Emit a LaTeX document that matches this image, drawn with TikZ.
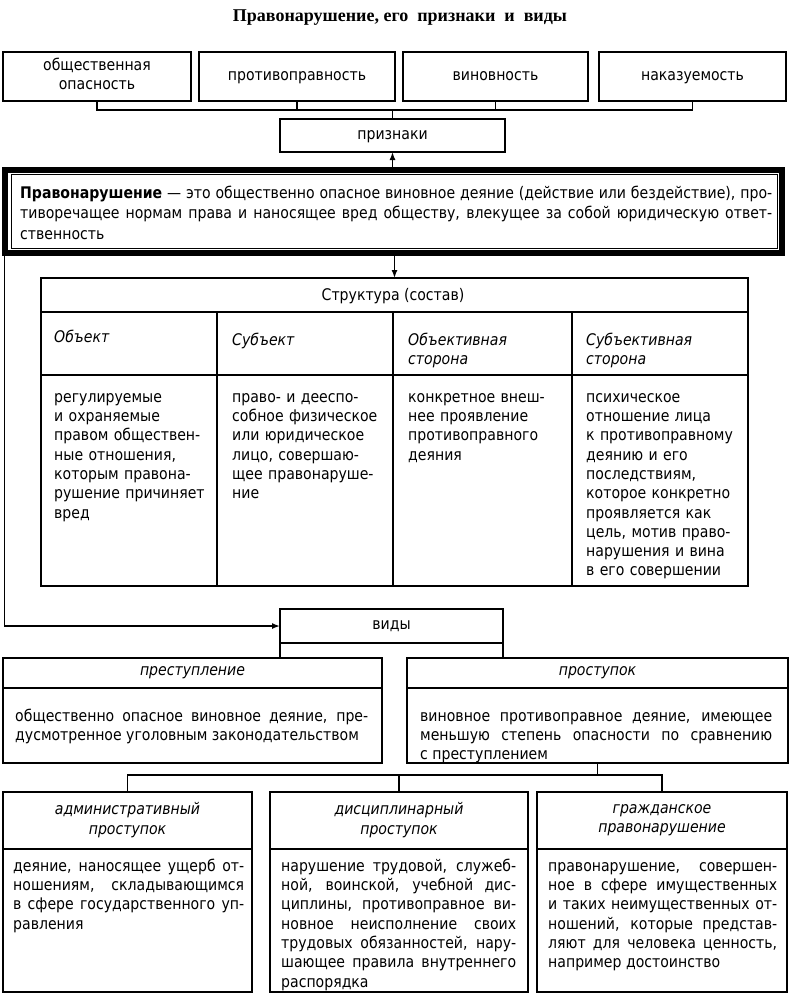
\documentclass[tikz,border=0pt]{standalone}
\usepackage{fontspec}
\setmainfont{DejaVu Sans}[FakeStretch=0.88]
\newfontfamily\titlefont{Liberation Serif}
\usetikzlibrary{arrows.meta,positioning}

\newcommand{\bodyfont}{\fontsize{16}{19.3}\selectfont}
\newcommand{\deffont}{\fontsize{16}{20.5}\selectfont}

\begin{document}
\begin{tikzpicture}[x=1pt, y=-1pt,
    frame/.style={draw, line width=1.8pt, inner sep=0pt, outer sep=0pt, anchor=north west, font=\bodyfont, align=center,
        execute at begin node=\strut},
    txt/.style={anchor=north west, inner sep=0pt, font=\bodyfont, align=justify,
        execute at begin node={\tolerance=10000\hbadness=10000\hyphenpenalty=10000\strut}},
    cell/.style={txt, align=left, text width=158pt},
    head/.style={inner sep=0pt, font=\bodyfont\itshape, align=center},
    link/.style={line width=1.8pt},
    arr/.style={line width=1.5pt, -{Latex[length=8pt,width=6pt]}}]
    \useasboundingbox (0,0) rectangle (792,996);
    \node[font=\titlefont\bfseries\fontsize{18}{21}\selectfont] (title) at (400,18) {Правонарушение, его\ \ признаки\ \ и\ \ виды};
    % signs
    \node[frame, minimum width=188pt, minimum height=49pt] (opasn) at (3,52) {общественная\\опасность};
    \node[frame, minimum width=196pt, minimum height=49pt] (protiv) at (199,52) {противоправность};
    \node[frame, minimum width=185pt, minimum height=49pt] (vinov) at (403,52) {виновность};
    \node[frame, minimum width=187pt, minimum height=49pt] (nakaz) at (599,52) {наказуемость};
    \node[frame, minimum width=225pt, minimum height=33pt] (priz) at (280,119) {признаки};
    \path (priz.north) ++(0,-9) coordinate (bus);
    \draw[link] (opasn.south) |- (bus) -| (nakaz.south);
    \draw[link] (protiv.south) -- (protiv.south |- bus);
    \draw[link] (vinov.south) -- (vinov.south |- bus);
    \draw[link] (bus) -- (priz.north);
    % definition
    \node[draw, line width=6pt, inner sep=0pt, outer sep=0pt, anchor=north west, minimum width=777pt, minimum height=82.5pt] (defout) at (4.5,170) {};
    \node[draw, line width=1pt, inner sep=0pt, outer sep=0pt, anchor=north west, minimum width=766pt, minimum height=74pt] (def) at (11,174) {};
    \node[txt, text width=752pt, font=\deffont] (deftxt) at (20,183.6) {\textbf{Правонарушение} — это общественно опасное виновное деяние (действие или бездействие), про-\linebreak тиворечащее нормам права и наносящее вред обществу, влекущее за собой юридическую ответ-\linebreak ственность};
    \draw[arr] (priz.south |- defout.north) -- (priz.south);
    % structure
    \node[frame, minimum width=707pt, minimum height=308pt] (str) at (41,278) {};
    \draw[arr] (str.north |- defout.south) -- (str.north);
    \draw[link] (41,312) -- (748,312);
    \draw[link] (41,375) -- (748,375);
    \foreach \x in {217,393,572} {
        \draw[link] (\x,312) -- (\x,586);
    }
    \node[inner sep=0pt, font=\bodyfont] (strhead) at (393,296) {Структура (состав)};
    \node[cell, font=\bodyfont\itshape] (hobj) at (54,328.5) {Объект};
    \node[cell, font=\bodyfont\itshape] (hsubj) at (232,331.5) {Субъект};
    \node[cell, font=\bodyfont\itshape] (hobst) at (408,331.5) {Объективная\\сторона};
    \node[cell, font=\bodyfont\itshape] (hsubst) at (586,331.5) {Субъективная\\сторона};
    \node[cell] (obj) at (54,388.5) {регулируемые\\и охраняемые\\правом обществен-\\ные отношения,\\которым правона-\\рушение причиняет\\вред};
    \node[cell] (subj) at (232,388.5) {право- и дееспо-\\собное физическое\\или юридическое\\лицо, совершаю-\\щее правонаруше-\\ние};
    \node[cell] (obst) at (408,388.5) {конкретное внеш-\\нее проявление\\противоправного\\деяния};
    \node[cell] (subst) at (586,388.5) {психическое\\отношение лица\\к противоправному\\деянию и его\\последствиям,\\которое конкретно\\проявляется как\\цель, мотив право-\\нарушения и вина\\в его совершении};
    % kinds
    \node[frame, minimum width=223pt, minimum height=34pt] (vid) at (280,609) {виды};
    \draw[arr] (defout.south west) |- (vid.west);
    \node[frame, minimum width=379pt, minimum height=105pt] (prest) at (3,658) {};
    \node[frame, minimum width=381pt, minimum height=105pt] (prost) at (407,658) {};
    \draw[link] (vid.south west) -- (vid.south west |- prest.north);
    \draw[link] (vid.south east) -- (vid.south east |- prost.north);
    \draw[link] (3,688) -- (382,688);
    \draw[link] (407,688) -- (788,688);
    \node[head] (hprest) at (192.5,673) {преступление};
    \node[head] (hprost) at (597.5,673) {проступок};
    \node[txt, text width=353pt] (presttxt) at (15,707.5) {общественно опасное виновное деяние, пре-\linebreak дусмотренное уголовным законодательством};
    \node[txt, text width=352pt] (prosttxt) at (420,707.5) {виновное противоправное деяние, имеющее\linebreak меньшую степень опасности по сравнению\linebreak с преступлением};
    % kinds of misdemeanour
    \node[frame, minimum width=249pt, minimum height=200pt] (adm) at (3,792) {};
    \node[frame, minimum width=258pt, minimum height=200pt] (disc) at (270,792) {};
    \node[frame, minimum width=250pt, minimum height=200pt] (grazh) at (537,792) {};
    \path (prost.south) ++(0,12) coordinate (bus2);
    \draw[link] (prost.south) -- (bus2);
    \draw[link] (adm.north) |- (bus2) -| (grazh.north);
    \draw[link] (disc.north) -- (disc.north |- bus2);
    \draw[link] (3,849) -- (252,849);
    \draw[link] (270,849) -- (528,849);
    \draw[link] (537,849) -- (787,849);
    \node[head] (hadm) at (127.5,820) {административный\\проступок};
    \node[head] (hdisc) at (399,820) {дисциплинарный\\проступок};
    \node[head] (hgrazh) at (662,820) {гражданское\\правонарушение};
    \node[txt, text width=231pt] (admtxt) at (13,857.5) {деяние, наносящее ущерб от-\linebreak ношениям, складывающимся\linebreak в сфере государственного уп-\linebreak равления};
    \node[txt, text width=235pt] (disctxt) at (281,857.5) {нарушение трудовой, служеб-\linebreak ной, воинской, учебной дис-\linebreak циплины, противоправное ви-\linebreak новное неисполнение своих\linebreak трудовых обязанностей, нару-\linebreak шающее правила внутреннего\linebreak распорядка};
    \node[txt, text width=229pt] (grazhtxt) at (548,857.5) {правонарушение, совершен-\linebreak ное в сфере имущественных\linebreak и таких неимущественных от-\linebreak ношений, которые представ-\linebreak ляют для человека ценность,\linebreak например достоинство};
\end{tikzpicture}
\end{document}
